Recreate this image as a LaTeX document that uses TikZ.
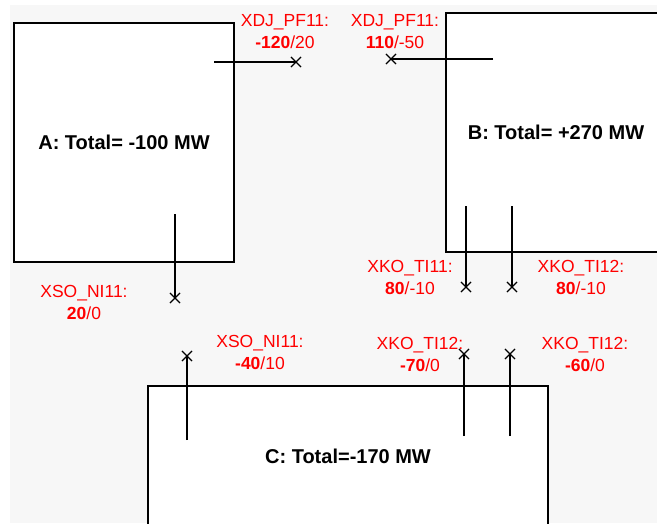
\documentclass[tikz,border=0pt]{standalone}
\usepackage{fontspec}
\setmainfont{Liberation Sans}
\usetikzlibrary{shapes.misc,positioning}
\definecolor{bggray}{HTML}{F7F7F7}
\definecolor{flowred}{HTML}{FF0000}

\begin{document}
\begin{tikzpicture}[x=1pt,y=-1pt,
  area/.style={rectangle,draw=black,fill=white,line width=1.4pt,inner sep=0pt,align=center,font=\fontsize{20}{24}\selectfont\bfseries},
  flow/.style={align=center,text=flowred,inner sep=0pt,font=\fontsize{17.5}{22}\selectfont},
  tie/.style={line width=1.2pt,draw=black},
  xmark/.style={cross out,draw=black,line width=1.1pt,minimum size=9pt,inner sep=0pt}
]
\clip (0,0) rectangle (657,523);
\fill[white] (0,0) rectangle (657,523);
\fill[bggray] (10,5) rectangle (657,523);
% areas
\node[area,minimum width=220pt,minimum height=239pt] (areaA) at (124,142.5) {A: Total= -100 MW};
\node[area,minimum width=232pt,minimum height=239pt] (areaB) at (562,132.5) {B: Total= +270 MW\hspace*{12pt}};
\node[area,minimum width=400pt,minimum height=140pt] (areaC) at (348,456) {C: Total=-170 MW};
% tie line ends inside the areas
\coordinate (a1) at (214,62); \coordinate (a2) at (175,214);
\coordinate (b1) at (493,59); \coordinate (b2) at (466,206); \coordinate (b3) at (512,206);
\coordinate (c1) at (187,440); \coordinate (c2) at (464,436); \coordinate (c3) at (510,436);
% measuring points
\node[xmark] (xa1) at (296,62) {};
\node[xmark] (xa2) at (175,298) {};
\node[xmark] (xb1) at (391,59) {};
\node[xmark] (xb2) at (466,287) {};
\node[xmark] (xb3) at (512,287) {};
\node[xmark] (xc1) at (187,356) {};
\node[xmark] (xc2) at (464,354) {};
\node[xmark] (xc3) at (510,354) {};
\draw[tie] (a1)--(xa1.center); \draw[tie] (a2)--(xa2.center);
\draw[tie] (b1)--(xb1.center); \draw[tie] (b2)--(xb2.center); \draw[tie] (b3)--(xb3.center);
\draw[tie] (c1)--(xc1.center); \draw[tie] (c2)--(xc2.center); \draw[tie] (c3)--(xc3.center);
% flow labels
\node[flow] (la1) at (285,32) {XDJ\_PF11:\\\textbf{-120}/20};
\node[flow] (lb1) at (395,32) {XDJ\_PF11:\\\textbf{110}/-50};
\node[flow] (la2) at (84,302) {XSO\_NI11:\\\textbf{20}/0};
\node[flow] (lb2) at (410,277) {XKO\_TI11:\\\textbf{80}/-10};
\node[flow] (lb3) at (581,277) {XKO\_TI12:\\\textbf{80}/-10};
\node[flow] (lc1) at (260,352) {XSO\_NI11:\\\textbf{-40}/10};
\node[flow] (lc2) at (420,354) {XKO\_TI12:\\\textbf{-70}/0};
\node[flow] (lc3) at (585,354) {XKO\_TI12:\\\textbf{-60}/0};
\end{tikzpicture}
\end{document}
